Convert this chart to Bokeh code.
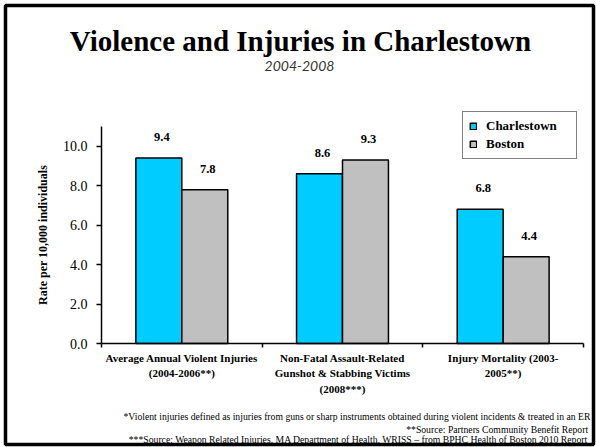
import numpy as np
from bokeh.plotting import figure
from bokeh.models import (ColumnDataSource, LabelSet, Label, Legend, LegendItem,
                          FixedTicker, NumeralTickFormatter, Range1d)
from bokeh.embed import file_html
from bokeh.resources import INLINE

# ---------------- data ----------------
categories = [
    "Average Annual Violent Injuries\n(2004-2006**)",
    "Non-Fatal Assault-Related\nGunshot & Stabbing Victims\n(2008***)",
    "Injury Mortality (2003-\n2005**)",
]
charlestown = [9.4, 8.6, 6.8]
boston = [7.8, 9.3, 4.4]
series_names = ["Charlestown", "Boston"]
y_ticks = [0, 2, 4, 6, 8, 10]
title_text = "Violence and Injuries in Charlestown"
subtitle_text = "2004-2008"
footnotes = [
    "*Violent injuries defined as injuries from guns or sharp instruments obtained during violent incidents & treated in an ER",
    "**Source:  Partners Community Benefit Report",
    "***Source:  Weapon Related Injuries, MA Department of Health, WRISS \u2013 from BPHC Health of Boston 2010 Report",
]

# ---------------- layout (canvas pixels) ----------------
W, H = 596, 447
BL, BR, BT, BB = 5, 3, 5, 3          # border (frame outline) insets
FRL, FRR, FRT, FRB = BL, W - BR, BT, H - BB
NCAT = len(categories)
YMAX = 11
X0PX, XNPX = 101.0, 583.0     # pixel of x=0 and x=NCAT
Y0PX, YMPX = 343.0, 126.0     # pixel of y=0 and y=YMAX
PXX = (XNPX - X0PX) / NCAT
PXY = (Y0PX - YMPX) / YMAX
BAR_W = 0.286
SERIF = "Liberation Serif"
C_CHARL = "#00CCFF"
C_BOS = "#C0C0C0"


def px_x(cx):
    return (cx - X0PX) / PXX


def px_y(cy):
    return (Y0PX - cy) / PXY


p = figure(width=W, height=H, output_backend="svg", toolbar_location=None,
           x_range=Range1d(px_x(FRL), px_x(FRR)), y_range=Range1d(px_y(FRB), px_y(FRT)),
           min_border_left=BL, min_border_right=BR, min_border_top=BT, min_border_bottom=BB)
p.title.visible = False
p.background_fill_color = "white"
p.border_fill_color = "white"
p.outline_line_color = "black"
p.outline_line_width = 3.5
p.xgrid.visible = False
p.ygrid.visible = False

idx = np.arange(NCAT)
src = ColumnDataSource(dict(
    xc=idx + 0.5 - BAR_W / 2,
    xb=idx + 0.5 + BAR_W / 2,
    charl=charlestown,
    bos=boston,
    charl_t=[f"{v:.1f}" for v in charlestown],
    bos_t=[f"{v:.1f}" for v in boston],
))

r1 = p.vbar(x="xc", top="charl", bottom=0, width=BAR_W, source=src,
            fill_color=C_CHARL, line_color="black", line_width=1.5)
r2 = p.vbar(x="xb", top="bos", bottom=0, width=BAR_W, source=src,
            fill_color=C_BOS, line_color="black", line_width=1.5)

for xcol, ycol, tcol in [("xc", "charl", "charl_t"), ("xb", "bos", "bos_t")]:
    p.add_layout(LabelSet(x=xcol, y=ycol, text=tcol, source=src,
                          x_offset=3, y_offset=17,
                          text_align="center", text_baseline="alphabetic",
                          text_font=SERIF, text_font_style="bold",
                          text_font_size="12.5px", text_color="black"))

# axes (drawn inside the frame at the data origin)
xa = p.xaxis[0]
xa.fixed_location = 0
xa.bounds = (0, NCAT)
xa.ticker = FixedTicker(ticks=list(idx + 0.5), minor_ticks=list(range(NCAT + 1)))
xa.major_label_overrides = {float(i + 0.5): c for i, c in enumerate(categories)}
xa.axis_line_color = "black"
xa.axis_line_width = 1.5
xa.major_tick_out = 0
xa.major_tick_in = 0
xa.minor_tick_out = 4
xa.minor_tick_in = 0
xa.minor_tick_line_color = "black"
xa.minor_tick_line_width = 1.5
xa.major_label_text_font = SERIF
xa.major_label_text_font_style = "bold"
xa.major_label_text_font_size = "11px"
xa.major_label_text_line_height = 1.3
xa.major_label_text_color = "black"
xa.major_label_standoff = 4

ya = p.yaxis[0]
ya.fixed_location = 0
ya.bounds = (0, YMAX)
ya.ticker = FixedTicker(ticks=y_ticks)
ya.formatter = NumeralTickFormatter(format="0.0")
ya.axis_line_color = "black"
ya.axis_line_width = 1.5
ya.major_tick_out = 5
ya.major_tick_in = 0
ya.major_tick_line_width = 1.5
ya.minor_tick_out = 0
ya.minor_tick_in = 0
ya.major_label_text_font = SERIF
ya.major_label_text_font_size = "14px"
ya.major_label_text_color = "black"
ya.major_label_standoff = 9
ya.axis_label = "Rate per 10,000 individuals"
ya.axis_label_text_font = SERIF
ya.axis_label_text_font_style = "bold"
ya.axis_label_text_font_size = "12px"
ya.axis_label_text_color = "black"
ya.axis_label_standoff = 10

# legend (location = bottom-left corner, relative to frame bottom-left)
legend = Legend(items=[LegendItem(label=series_names[0], renderers=[r1]),
                       LegendItem(label=series_names[1], renderers=[r2])],
                location=(462 - FRL, FRB - 159), orientation="vertical",
                padding=6, spacing=2, margin=0,
                glyph_width=8, glyph_height=8, label_standoff=9,
                label_height=14, label_width=84,
                label_text_font=SERIF, label_text_font_style="bold",
                label_text_font_size="13px", label_text_color="black",
                border_line_color="black", border_line_width=1.5,
                background_fill_color="white", background_fill_alpha=1.0)
p.add_layout(legend)

# titles
p.add_layout(Label(x=px_x(300), y=px_y(40), text=title_text,
                   text_align="center", text_baseline="alphabetic",
                   text_font=SERIF, text_font_style="bold",
                   text_font_size="29px", text_color="black"))
p.add_layout(Label(x=px_x(299), y=px_y(65), text=subtitle_text,
                   text_align="center", text_baseline="alphabetic",
                   text_font="Lato", text_font_style="italic",
                   text_font_size="14px", text_color="#333333"))

# footnotes
for txt, base in zip(footnotes, [416, 428.5, 439]):
    p.add_layout(Label(x=px_x(590), y=px_y(base), text=txt,
                       text_align="right", text_baseline="alphabetic",
                       text_font=SERIF, text_font_size="9.7px",
                       text_color="black"))

open("out.html", "w").write(file_html(p, INLINE))
